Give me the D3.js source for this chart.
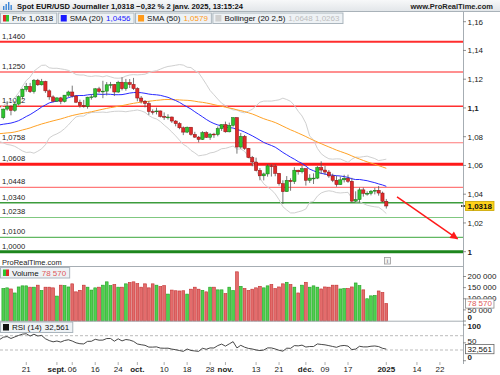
<!DOCTYPE html>
<html>
<head>
<meta charset="utf-8">
<script src="https://cdn.jsdelivr.net/npm/d3@7"></script>
<style>
  body { margin: 0; background: #fff; }
  svg { display: block; font-family: "Liberation Sans", Arial, sans-serif; }
</style>
</head>
<body>
<div id="vis"></div>
<script>
// closes before the first visible bar, only used to warm up SMA / Bollinger / RSI
const warmup = [
  1.0877, 1.0868, 1.0893, 1.0801, 1.0764, 1.0740, 1.0812, 1.0739, 1.0702, 1.0738, 1.0739, 1.0748, 1.0702,
  1.0692, 1.0734, 1.0714, 1.0683, 1.0702, 1.0713,
  1.0740, 1.0742, 1.0791, 1.0810, 1.0839, 1.0826, 1.0814, 1.0830, 1.0867, 1.0907, 1.0893, 1.0898, 1.0937,
  1.0898, 1.0882, 1.0889, 1.0854, 1.0844, 1.0849, 1.0857, 1.0818, 1.0816, 1.0825,
  1.0790, 1.0910, 1.0953, 1.0933, 1.0922, 1.0918, 1.0917, 1.0932
];

// date, open, high, low, close
const candles = [
  ["2024-08-13", 1.0932, 1.0996, 1.0921, 1.0992], ["2024-08-14", 1.0992, 1.1047, 1.0981, 1.1012],
  ["2024-08-15", 1.1012, 1.1019, 1.0949, 1.0983], ["2024-08-16", 1.0983, 1.1048, 1.0973, 1.1027],
  ["2024-08-19", 1.1027, 1.1088, 1.1017, 1.1078], ["2024-08-20", 1.1078, 1.1136, 1.1060, 1.1130],
  ["2024-08-21", 1.1130, 1.1174, 1.1113, 1.1150], ["2024-08-22", 1.1150, 1.1174, 1.1104, 1.1113],
  ["2024-08-23", 1.1113, 1.1201, 1.1100, 1.1193], ["2024-08-26", 1.1193, 1.1202, 1.1153, 1.1161],
  ["2024-08-27", 1.1161, 1.1202, 1.1156, 1.1184], ["2024-08-28", 1.1184, 1.1189, 1.1105, 1.1119],
  ["2024-08-29", 1.1119, 1.1129, 1.1057, 1.1077], ["2024-08-30", 1.1077, 1.1088, 1.1039, 1.1047],
  ["2024-09-02", 1.1047, 1.1074, 1.1043, 1.1070], ["2024-09-03", 1.1070, 1.1077, 1.1026, 1.1045],
  ["2024-09-04", 1.1045, 1.1090, 1.1038, 1.1089], ["2024-09-05", 1.1089, 1.1120, 1.1077, 1.1111],
  ["2024-09-06", 1.1111, 1.1155, 1.1072, 1.1083], ["2024-09-09", 1.1083, 1.1090, 1.1034, 1.1040],
  ["2024-09-10", 1.1040, 1.1058, 1.1002, 1.1017], ["2024-09-11", 1.1017, 1.1056, 1.1002, 1.1011],
  ["2024-09-12", 1.1011, 1.1078, 1.0995, 1.1075], ["2024-09-13", 1.1075, 1.1095, 1.1058, 1.1077],
  ["2024-09-16", 1.1077, 1.1139, 1.1070, 1.1133], ["2024-09-17", 1.1133, 1.1147, 1.1103, 1.1115],
  ["2024-09-18", 1.1115, 1.1189, 1.1068, 1.1117], ["2024-09-19", 1.1117, 1.1180, 1.1087, 1.1161],
  ["2024-09-20", 1.1161, 1.1181, 1.1136, 1.1163], ["2024-09-23", 1.1163, 1.1167, 1.1083, 1.1111],
  ["2024-09-24", 1.1111, 1.1189, 1.1104, 1.1179], ["2024-09-25", 1.1179, 1.1214, 1.1122, 1.1134],
  ["2024-09-26", 1.1134, 1.1202, 1.1120, 1.1176], ["2024-09-27", 1.1176, 1.1201, 1.1139, 1.1164],
  ["2024-09-30", 1.1164, 1.1209, 1.1125, 1.1135], ["2024-10-01", 1.1135, 1.1144, 1.1046, 1.1069],
  ["2024-10-02", 1.1069, 1.1083, 1.1031, 1.1047], ["2024-10-03", 1.1047, 1.1055, 1.1004, 1.1031],
  ["2024-10-04", 1.1031, 1.1048, 1.0951, 1.0975], ["2024-10-07", 1.0975, 1.0990, 1.0954, 1.0974],
  ["2024-10-08", 1.0974, 1.1002, 1.0955, 1.0979], ["2024-10-09", 1.0979, 1.0982, 1.0934, 1.0941],
  ["2024-10-10", 1.0941, 1.0969, 1.0917, 1.0936], ["2024-10-11", 1.0936, 1.0956, 1.0919, 1.0937],
  ["2024-10-14", 1.0937, 1.0940, 1.0896, 1.0909], ["2024-10-15", 1.0909, 1.0916, 1.0872, 1.0891],
  ["2024-10-16", 1.0891, 1.0901, 1.0852, 1.0862], ["2024-10-17", 1.0862, 1.0871, 1.0811, 1.0832],
  ["2024-10-18", 1.0832, 1.0871, 1.0825, 1.0866], ["2024-10-21", 1.0866, 1.0866, 1.0807, 1.0816],
  ["2024-10-22", 1.0816, 1.0834, 1.0791, 1.0797], ["2024-10-23", 1.0797, 1.0805, 1.0761, 1.0781],
  ["2024-10-24", 1.0781, 1.0838, 1.0777, 1.0828], ["2024-10-25", 1.0828, 1.0838, 1.0791, 1.0796],
  ["2024-10-28", 1.0796, 1.0826, 1.0778, 1.0818], ["2024-10-29", 1.0818, 1.0827, 1.0792, 1.0815],
  ["2024-10-30", 1.0815, 1.0871, 1.0803, 1.0856], ["2024-10-31", 1.0856, 1.0886, 1.0840, 1.0884],
  ["2024-11-01", 1.0884, 1.0905, 1.0828, 1.0834], ["2024-11-04", 1.0834, 1.0898, 1.0830, 1.0879],
  ["2024-11-05", 1.0879, 1.0937, 1.0870, 1.0932], ["2024-11-06", 1.0932, 1.0937, 1.0682, 1.0728],
  ["2024-11-07", 1.0728, 1.0826, 1.0716, 1.0802], ["2024-11-08", 1.0802, 1.0812, 1.0708, 1.0719],
  ["2024-11-11", 1.0719, 1.0722, 1.0650, 1.0655], ["2024-11-12", 1.0655, 1.0666, 1.0594, 1.0624],
  ["2024-11-13", 1.0624, 1.0654, 1.0560, 1.0565], ["2024-11-14", 1.0565, 1.0582, 1.0497, 1.0528],
  ["2024-11-15", 1.0528, 1.0550, 1.0496, 1.0541], ["2024-11-18", 1.0541, 1.0610, 1.0522, 1.0597],
  ["2024-11-19", 1.0597, 1.0609, 1.0523, 1.0596], ["2024-11-20", 1.0596, 1.0609, 1.0525, 1.0545],
  ["2024-11-21", 1.0545, 1.0548, 1.0460, 1.0473], ["2024-11-22", 1.0473, 1.0497, 1.0332, 1.0418],
  ["2024-11-25", 1.0418, 1.0526, 1.0418, 1.0496], ["2024-11-26", 1.0496, 1.0511, 1.0424, 1.0488],
  ["2024-11-27", 1.0488, 1.0588, 1.0471, 1.0567], ["2024-11-28", 1.0567, 1.0570, 1.0536, 1.0556],
  ["2024-11-29", 1.0556, 1.0597, 1.0545, 1.0578], ["2024-12-02", 1.0578, 1.0580, 1.0460, 1.0497],
  ["2024-12-03", 1.0497, 1.0539, 1.0479, 1.0512], ["2024-12-04", 1.0512, 1.0545, 1.0471, 1.0512],
  ["2024-12-05", 1.0512, 1.0596, 1.0505, 1.0585], ["2024-12-06", 1.0585, 1.0629, 1.0540, 1.0568],
  ["2024-12-09", 1.0568, 1.0597, 1.0535, 1.0554], ["2024-12-10", 1.0554, 1.0568, 1.0514, 1.0527],
  ["2024-12-11", 1.0527, 1.0543, 1.0484, 1.0497], ["2024-12-12", 1.0497, 1.0529, 1.0452, 1.0467],
  ["2024-12-13", 1.0467, 1.0523, 1.0465, 1.0500], ["2024-12-16", 1.0500, 1.0535, 1.0482, 1.0510],
  ["2024-12-17", 1.0510, 1.0536, 1.0479, 1.0490], ["2024-12-18", 1.0490, 1.0514, 1.0343, 1.0352],
  ["2024-12-19", 1.0352, 1.0420, 1.0343, 1.0363], ["2024-12-20", 1.0363, 1.0446, 1.0344, 1.0430],
  ["2024-12-23", 1.0430, 1.0446, 1.0383, 1.0406], ["2024-12-24", 1.0406, 1.0420, 1.0390, 1.0406],
  ["2024-12-26", 1.0406, 1.0429, 1.0392, 1.0421], ["2024-12-27", 1.0421, 1.0444, 1.0399, 1.0427],
  ["2024-12-30", 1.0427, 1.0457, 1.0390, 1.0408], ["2024-12-31", 1.0408, 1.0418, 1.0343, 1.0351],
  ["2025-01-02", 1.0351, 1.0367, 1.0300, 1.0318]
];

const volumes = [
  146000, 149000, 144000, 126000, 153000, 158000, 158000, 152000, 152000, 161000,
  137000, 152000, 152000, 149000, 112000, 161000, 159000, 153000, 167000, 131000,
  138000, 161000, 152000, 139000, 149000, 152000, 161000, 176000, 159000, 164000,
  152000, 152000, 167000, 173000, 176000, 168000, 152000, 167000, 149000, 167000,
  161000, 155000, 159000, 121000, 139000, 136000, 135000, 136000, 121000, 143000,
  152000, 143000, 138000, 131000, 152000, 152000, 140000, 140000, 123000, 152000,
  137000, 221000, 156000, 146000, 137000, 143000, 149000, 156000, 149000, 158000,
  164000, 146000, 153000, 167000, 174000, 164000, 152000, 126000, 161000, 174000,
  152000, 158000, 152000, 144000, 153000, 152000, 161000, 161000, 144000, 146000,
  146000, 153000, 171000, 159000, 140000, 100000, 113000, 115000, 135000, 128000,
  78570
];

// horizontal support / resistance levels drawn on the price panel
const levels = [1.1460, 1.1250, 1.1012, 1.0758, 1.0608, 1.0448, 1.0340, 1.0238, 1.0100, 1.0000];

// trend arrow: [bar index, price]
const arrowFrom = [102.8, 1.0381];
const arrowTo = [118.6, 1.0090];

const priceTicks = [1, 1.02, 1.04, 1.06, 1.08, 1.1, 1.12, 1.14, 1.16];
const volumeTicks = [0, 50000, 100000, 150000, 200000];
const rsiTicks = [0, 50, 100];

const dateTicks = [
  ["2024-08-21", "21"], ["2024-09-02", "sept."], ["2024-09-06", "06"], ["2024-09-16", "16"],
  ["2024-09-24", "24"], ["2024-10-01", "oct."], ["2024-10-10", "10"], ["2024-10-18", "18"],
  ["2024-10-28", "28"], ["2024-11-01", "nov."], ["2024-11-13", "13"], ["2024-11-21", "21"],
  ["2024-12-02", "déc."], ["2024-12-09", "09"], ["2024-12-17", "17"], ["2025-01-02", "2025"],
  ["2025-01-14", "14"], ["2025-01-22", "22"]
];

const title = "Spot EUR/USD Journalier 1,0318 −0,32 % 2 janv. 2025, 13:15:24";
const lastPrice = "1,0318";
const legendValues = { prix: "1,0318", sma20: "1,0456", sma50: "1,0579", boll: "1,0648 1,0263", vol: "78 570", rsi: "32,561" };

// ---------------------------------------------------------------------------

const W = 500, H = 375, AX = 463;
const GREEN = "#2fc42f", RED = "#e02a2a";

const loc = d3.formatLocale({ decimal: ",", thousands: " ", grouping: [3], currency: ["", ""] });
const fmtTick = loc.format(".2~f");
const fmtLevel = loc.format(".4f");
const fmtVol = loc.format(",d");

const svg = d3.select("#vis").append("svg")
    .attr("width", W)
    .attr("height", H);

// bar slots: trading days, then future weekdays for the axis
const dates = candles.map(d => d[0]);
const future = d3.timeDay.range(new Date(2025, 0, 3), new Date(2025, 1, 3))
    .filter(d => d.getDay() % 6 !== 0)
    .map(d3.timeFormat("%Y-%m-%d"));
const slots = dates.concat(future);

const x = d3.scaleLinear().domain([0, 100]).range([3.3, 386.3]);
const y = d3.scaleLinear().domain([1, 1.16]).range([251.7, 21.7]);
const yv = d3.scaleLinear().domain([0, 200000]).range([321, 276.5]);
const yr = d3.scaleLinear().domain([30, 70]).range([350, 335.7]);

// indicators
const all = warmup.concat(candles.map(d => d[4]));
const off = warmup.length;
const ind = d3.range(off - 1, all.length).map(k => {
    const win = all.slice(k - 19, k + 1);
    const m = d3.mean(win);
    const sd = Math.sqrt(d3.mean(win, v => (v - m) * (v - m)));
    return { i: k - off, s20: m, s50: d3.mean(all.slice(k - 49, k + 1)), up: m + 2.5 * sd, lo: m - 2.5 * sd };
});

const rsi = [];
let ag = 0, al = 0;
for (let k = 1; k < all.length; k++) {
    const ch = all[k] - all[k - 1];
    const g = Math.max(ch, 0), l = Math.max(-ch, 0);
    if (k <= 14) { ag += g / 14; al += l / 14; }
    else { ag = (ag * 13 + g) / 14; al = (al * 13 + l) / 14; }
    if (k >= off - 1) rsi.push({ i: k - off, v: 100 - 100 / (1 + ag / al) });
}

// ---------------------------------------------------------------------------
// header

const defs = svg.append("defs");
const grad = defs.append("linearGradient").attr("id", "hdr").attr("x1", 0).attr("y1", 0).attr("x2", 0).attr("y2", 1);
grad.append("stop").attr("offset", "0%").attr("stop-color", "#f7f8f9");
grad.append("stop").attr("offset", "100%").attr("stop-color", "#e2e6e9");
defs.append("clipPath").attr("id", "pclip").append("rect")
    .attr("x", 0).attr("y", 12).attr("width", AX).attr("height", 244);
defs.append("clipPath").attr("id", "rclip").append("rect")
    .attr("x", 0).attr("y", 322).attr("width", AX).attr("height", 40);
defs.append("marker")
    .attr("id", "head")
    .attr("viewBox", "0 0 10 10")
    .attr("refX", 9).attr("refY", 5)
    .attr("markerWidth", 9).attr("markerHeight", 8)
    .attr("markerUnits", "userSpaceOnUse")
    .attr("orient", "auto")
  .append("path")
    .attr("d", "M0,0L10,5L0,10Z")
    .attr("fill", "#ff1a1a");

svg.append("rect").attr("x", 0).attr("y", 0).attr("width", W).attr("height", 11.5).attr("fill", "url(#hdr)");
svg.append("line").attr("x1", 0).attr("x2", W).attr("y1", 11.5).attr("y2", 11.5).attr("stroke", "#a9b2b9");

// little chart icon
[[3, 6, 4], [5.5, 4, 6], [8, 2, 8], [10.5, 5, 5]].forEach(b => {
    svg.append("rect").attr("x", b[0]).attr("y", b[1]).attr("width", 1.4).attr("height", b[2]).attr("fill", "#3b86d8");
});

svg.append("text")
    .attr("x", 17).attr("y", 8.8)
    .attr("font-size", 8).attr("font-weight", "bold").attr("fill", "#111")
    .attr("textLength", 226).attr("lengthAdjust", "spacingAndGlyphs")
    .text(title);
svg.append("text")
    .attr("x", 493).attr("y", 8.8)
    .attr("text-anchor", "end")
    .attr("font-size", 7.5).attr("font-weight", "bold").attr("fill", "#222")
    .text("www.ProRealTime.com");

// legend boxes
function legendRow(y0, items) {
    let cx = 0;
    items.forEach(it => {
        const g = svg.append("g");
        const box = g.append("rect").attr("x", cx + 0.5).attr("y", y0 + 0.5).attr("height", 10.5)
            .attr("fill", "#eef2f5").attr("stroke", "#aab5bd");
        const n = it.icon.length;
        it.icon.forEach((c, j) => {
            g.append("rect").attr("x", cx + 3 + j * 6 / n).attr("y", y0 + 2.5)
                .attr("width", 6 / n).attr("height", 6.5).attr("fill", c);
        });
        const t1 = g.append("text").attr("x", cx + 12).attr("y", y0 + 8.7)
            .attr("font-size", 8).attr("fill", "#111").text(it.label);
        let end = cx + 12 + t1.node().getComputedTextLength();
        if (it.value) {
            const t2 = g.append("text").attr("x", end + 3).attr("y", y0 + 8.7)
                .attr("font-size", 8).attr("fill", it.color).text(it.value);
            end += 3 + t2.node().getComputedTextLength();
        }
        const w = end + 3 - cx;
        box.attr("width", w);
        cx += w + 1.5;
    });
}

// ---------------------------------------------------------------------------
// price panel

const pp = svg.append("g").attr("clip-path", "url(#pclip)");

const levelStyle = [
    { c: "#ff2e2e", w: 2 }, { c: "#ff6a6a", w: 1.3 }, { c: "#ff3030", w: 1.6 }, { c: "#ff7a7a", w: 1.2 },
    { c: "#ff1a1a", w: 3 }, { c: "#ff7a7a", w: 1.2 }, { c: "#3c9c3c", w: 1.5 }, { c: "#80c880", w: 1.2 },
    { c: "#62b862", w: 1.2 }, { c: "#1d861d", w: 3 }
];

pp.selectAll(".lvl").data(levels).enter().append("line")
    .attr("x1", 0).attr("x2", AX)
    .attr("y1", d => y(d)).attr("y2", d => y(d))
    .attr("stroke", (d, i) => levelStyle[i].c)
    .attr("stroke-width", (d, i) => levelStyle[i].w);

pp.selectAll(".lvlt").data(levels).enter().append("text")
    .attr("x", 2).attr("y", d => y(d) - 3.2)
    .attr("font-size", 7.6).attr("fill", "#222")
    .text(d => fmtLevel(d));

const lineOf = key => d3.line().x(d => x(d.i)).y(d => y(d[key]));
[["up", "#d0d0d0"], ["lo", "#d0d0d0"], ["s50", "#ffa226"], ["s20", "#2a2aff"]].forEach(s => {
    pp.append("path").datum(ind)
        .attr("d", lineOf(s[0]))
        .attr("fill", "none")
        .attr("stroke", s[1])
        .attr("stroke-width", 1);
});

const cg = pp.selectAll(".candle").data(candles).enter().append("g");
cg.append("line")
    .attr("x1", (d, i) => x(i)).attr("x2", (d, i) => x(i))
    .attr("y1", d => y(d[2])).attr("y2", d => y(d[3]))
    .attr("stroke", "#555").attr("stroke-width", 0.8);
cg.append("rect")
    .attr("x", (d, i) => x(i) - 1.6)
    .attr("width", 3.2)
    .attr("y", d => y(Math.max(d[1], d[4])))
    .attr("height", d => Math.max(0.8, Math.abs(y(d[1]) - y(d[4]))))
    .attr("fill", d => d[4] >= d[1] ? GREEN : RED)
    .attr("stroke", d => d[4] >= d[1] ? "#156e15" : "#8a1010")
    .attr("stroke-width", 0.5);

// trend arrow
svg.append("line")
    .attr("x1", x(arrowFrom[0])).attr("y1", y(arrowFrom[1]))
    .attr("x2", x(arrowTo[0])).attr("y2", y(arrowTo[1]))
    .attr("stroke", "#ff1a1a").attr("stroke-width", 1.5)
    .attr("marker-end", "url(#head)");

legendRow(12.5, [
    { icon: [RED, GREEN], label: "Prix", value: legendValues.prix, color: "#111" },
    { icon: ["#1a1aff"], label: "SMA (20)", value: legendValues.sma20, color: "#1a1aff" },
    { icon: ["#ff9a1a"], label: "SMA (50)", value: legendValues.sma50, color: "#ff9a1a" },
    { icon: ["#cfcfcf"], label: "Bollinger (20 2,5)", value: legendValues.boll, color: "#bdbdbd" }
]);

// ---------------------------------------------------------------------------
// volume panel

svg.append("text").attr("x", 2).attr("y", 264.5)
    .attr("font-size", 7.5).attr("fill", "#222").text("ProRealTime.com");

const info = svg.append("g");
info.append("rect").attr("x", 384.5).attr("y", 257.5).attr("width", 6).attr("height", 6.5)
    .attr("fill", "#f2f2f2").attr("stroke", "#999").attr("stroke-width", 0.8);
info.append("text").attr("x", 387.5).attr("y", 263).attr("text-anchor", "middle")
    .attr("font-size", 6).attr("fill", "#555").text("i");

svg.selectAll(".vol").data(volumes).enter().append("rect")
    .attr("x", (d, i) => x(i) - 1.4)
    .attr("width", 2.8)
    .attr("y", d => yv(d))
    .attr("height", d => yv(0) - yv(d))
    .attr("fill", (d, i) => candles[i][4] >= candles[i][1] ? "#4fd04f" : "#e46c6c")
    .attr("stroke", (d, i) => candles[i][4] >= candles[i][1] ? "#1f9f1f" : "#c22e2e")
    .attr("stroke-width", 0.6);

legendRow(267, [
    { icon: [GREEN, RED], label: "Volume", value: legendValues.vol, color: "#e05a5a" }
]);

// ---------------------------------------------------------------------------
// RSI panel

[70, 30].forEach(v => {
    svg.append("line").attr("x1", 0).attr("x2", AX).attr("y1", yr(v)).attr("y2", yr(v))
        .attr("stroke", "#aaa").attr("stroke-width", 0.8).attr("stroke-dasharray", "3,2");
});
svg.append("path").datum(rsi)
    .attr("d", d3.line().x(d => x(d.i)).y(d => yr(d.v)))
    .attr("fill", "none").attr("stroke", "#333").attr("stroke-width", 0.9)
    .attr("clip-path", "url(#rclip)");

legendRow(321.5, [
    { icon: ["#111"], label: "RSI (14)", value: legendValues.rsi, color: "#111" }
]);

// ---------------------------------------------------------------------------
// frame and axes

const frame = "#a6adb3";
svg.append("line").attr("x1", 0).attr("x2", AX).attr("y1", 266.5).attr("y2", 266.5).attr("stroke", frame);
svg.append("line").attr("x1", 0).attr("x2", AX).attr("y1", 321.2).attr("y2", 321.2).attr("stroke", frame);
svg.append("line").attr("x1", AX + 0.5).attr("x2", AX + 0.5).attr("y1", 11.5).attr("y2", 364).attr("stroke", frame);

function rightTicks(vals, scale, fmt, boldTest, shift) {
    vals.forEach(v => {
        const yy = scale(v);
        svg.append("line").attr("x1", AX).attr("x2", AX + 3).attr("y1", yy).attr("y2", yy)
            .attr("stroke", "#777").attr("stroke-width", 0.8);
        svg.append("text")
            .attr("x", AX + 4.5).attr("y", yy + (shift(v) || 0))
            .attr("dy", "0.35em")
            .attr("font-size", 8)
            .attr("font-weight", boldTest(v) ? "bold" : "normal")
            .attr("fill", "#222")
            .text(fmt(v));
    });
}
rightTicks(priceTicks, y, fmtTick, v => Math.abs(v - 1) < 1e-9 || Math.abs(v - 1.1) < 1e-9, () => 0);
rightTicks(volumeTicks, yv, fmtVol, v => v === 0, v => v === 0 ? -4 : (v === 100000 ? -1 : 0));
rightTicks(rsiTicks, yr, d3.format("d"), v => v !== 50, v => v === 0 ? -3.5 : (v === 100 ? 1 : -1.5));

// value tags on the right axis
function tag(yy, txt, fill, stroke, color, bold) {
    const g = svg.append("g");
    const r = g.append("rect").attr("x", 465.5).attr("y", yy - 4.6).attr("height", 9.2)
        .attr("fill", fill).attr("stroke", stroke).attr("stroke-width", 0.8);
    const t = g.append("text").attr("x", 467.5).attr("y", yy).attr("dy", "0.35em")
        .attr("font-size", 8).attr("font-weight", bold ? "bold" : "normal").attr("fill", color).text(txt);
    r.attr("width", t.node().getComputedTextLength() + 4);
}
const lastClose = candles[candles.length - 1][4];
svg.append("line").attr("x1", AX - 2).attr("x2", AX + 2.5).attr("y1", y(lastClose)).attr("y2", y(lastClose))
    .attr("stroke", "#111").attr("stroke-width", 1.4).attr("stroke-dasharray", "1.5,1");
tag(y(lastClose), lastPrice, "#ffd21a", "#c9a400", "#111", true);
tag(yv(volumes[volumes.length - 1]), legendValues.vol, "#fff", "#8a8a8a", "#e05a5a", false);
tag(yr(rsi[rsi.length - 1].v), legendValues.rsi, "#fff", "#666", "#111", false);

// date axis
dateTicks.forEach(t => {
    const xx = x(slots.indexOf(t[0]));
    const bold = isNaN(+t[1]) || t[1].length === 4;
    svg.append("line").attr("x1", xx).attr("x2", xx).attr("y1", 362).attr("y2", 365)
        .attr("stroke", "#999").attr("stroke-width", 0.8);
    svg.append("text")
        .attr("x", xx).attr("y", 372)
        .attr("text-anchor", "middle")
        .attr("font-size", 8)
        .attr("font-weight", bold ? "bold" : "normal")
        .attr("fill", "#222")
        .text(t[1]);
});
</script>
</body>
</html>
